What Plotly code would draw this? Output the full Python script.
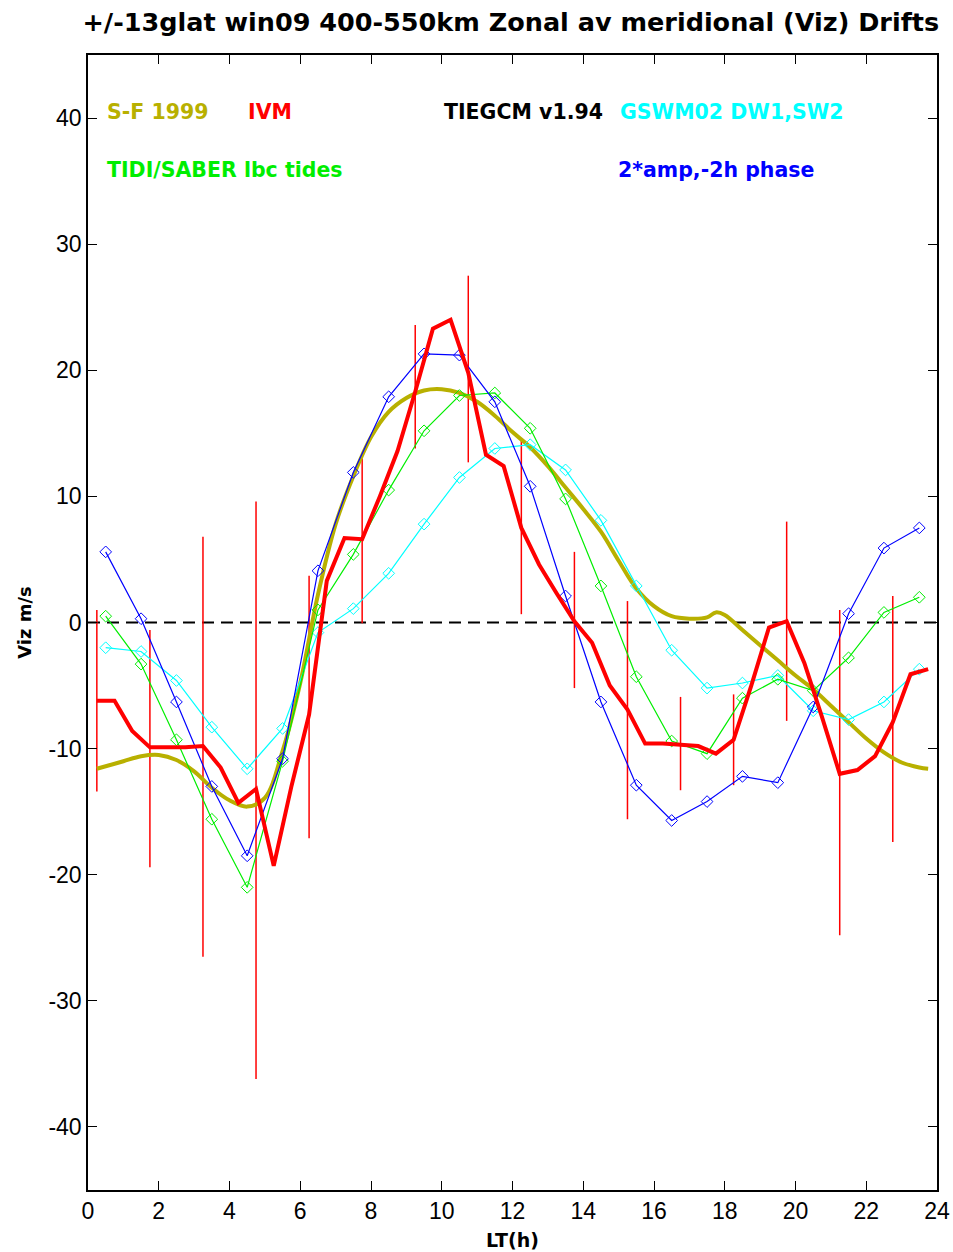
import plotly.graph_objects as go

# Local time grids (hours)
lt_hourly = [h + 0.5 for h in range(24)]
lt_ivm = [0.25 + 0.5 * k for k in range(48)]

# Model / observation series (Viz, m/s)
tidi_saber = [0.5, -3.3, -9.3, -15.6, -21.0, -11.0, 1.0, 5.4, 10.5, 15.2, 18.0, 18.2,
              15.4, 9.8, 2.9, -4.3, -9.4, -10.4, -6.0, -4.5, -5.4, -2.8, 0.8, 2.0]
gswm02 = [-2.0, -2.3, -4.6, -8.3, -11.6, -8.4, -0.8, 1.1, 3.9, 7.8, 11.5, 13.8,
          14.1, 12.1, 8.1, 2.9, -2.2, -5.2, -4.8, -4.2, -7.0, -7.7, -6.3, -3.7]
amp2_phase = [5.6, 0.3, -6.3, -13.0, -18.5, -10.8, 4.1, 11.9, 17.9, 21.3, 21.2, 17.5,
              10.8, 2.1, -6.3, -12.9, -15.7, -14.2, -12.2, -12.7, -6.7, 0.7, 5.9, 7.5]

ivm = [-6.2, -6.2, -8.6, -9.9, -9.9, -9.9, -9.8, -11.5, -14.3, -13.2, -19.3, -13.0,
       -7.3, 3.3, 6.7, 6.6, 10.0, 13.6, 18.3, 23.3, 24.0, 19.8, 13.3, 12.4,
       7.5, 4.6, 2.3, 0.1, -1.6, -5.0, -6.9, -9.6, -9.6, -9.7, -9.8, -10.4,
       -9.3, -5.0, -0.4, 0.1, -3.2, -7.5, -12.0, -11.7, -10.6, -7.9, -4.1, -3.7]

# IVM bin ranges (1.5 h bins)
ivm_bar_lt = [0.25, 1.75, 3.25, 4.75, 6.25, 7.75, 9.25, 10.75, 12.25, 13.75,
              15.25, 16.75, 18.25, 19.75, 21.25, 22.75]
ivm_bar_hi = [1.0, -0.6, 6.8, 9.6, 3.7, 13.0, 23.6, 27.5, 14.6, 5.6,
              1.7, -5.9, -5.7, 8.0, 1.0, 2.1]
ivm_bar_lo = [-13.4, -19.4, -26.5, -36.2, -17.1, -0.05, 13.8, 12.7, 0.66, -5.2,
              -15.6, -13.3, -12.9, -7.8, -24.8, -17.4]

# Scherliess & Fejer 1999 climatology
sf_lt = [0.25, 0.5, 1.0, 1.5, 2.0, 2.5, 3.0, 3.5, 4.0, 4.5, 5.0, 5.5, 6.0, 6.5, 7.0,
         7.5, 8.0, 8.5, 9.0, 9.5, 10.0, 10.5, 11.0, 11.5, 12.0, 12.5, 13.0, 13.5,
         14.0, 14.5, 15.0, 15.5, 16.0, 16.5, 17.0, 17.5, 17.75, 18.0, 18.5, 19.0,
         19.5, 20.0, 20.5, 21.0, 21.5, 22.0, 22.5, 23.0, 23.5, 23.75]
sf1999 = [-11.6, -11.4, -11.0, -10.6, -10.5, -10.9, -11.8, -13.1, -14.1, -14.6, -13.9,
          -10.2, -4.8, 2.2, 7.8, 11.6, 14.7, 16.7, 17.8, 18.4, 18.5, 18.2, 17.5, 16.4,
          15.1, 13.9, 12.4, 10.7, 9.0, 7.2, 4.9, 2.7, 1.3, 0.5, 0.3, 0.4, 0.8, 0.6,
          -0.6, -1.8, -3.0, -4.2, -5.3, -6.6, -7.9, -9.2, -10.3, -11.1, -11.5, -11.6]

zero_x = [0, 24]
zero_y = [0, 0]

x_ticks = list(range(0, 25, 2))
y_ticks = list(range(-40, 41, 10))

OLIVE = "#b8b000"
RED = "#ff0000"
GREEN = "#00ee00"
CYAN = "#00ffff"
BLUE = "#0000ff"

fig = go.Figure()

fig.add_trace(go.Scatter(x=zero_x, y=zero_y, mode="lines",
                         line=dict(color="black", width=2, dash="12px,7px")))

# IVM vertical range bars
bar_x, bar_y = [], []
for t, lo, hi in zip(ivm_bar_lt, ivm_bar_lo, ivm_bar_hi):
    bar_x += [t, t, None]
    bar_y += [lo, hi, None]
fig.add_trace(go.Scatter(x=bar_x, y=bar_y, mode="lines",
                         line=dict(color=RED, width=1.5)))

fig.add_trace(go.Scatter(x=sf_lt, y=sf1999, mode="lines",
                         line=dict(color=OLIVE, width=4, shape="spline")))

marker_style = dict(symbol="diamond-open", size=9, line=dict(width=1))
fig.add_trace(go.Scatter(x=lt_hourly, y=gswm02, mode="lines+markers",
                         line=dict(color=CYAN, width=1.2),
                         marker=dict(color=CYAN, **marker_style)))
fig.add_trace(go.Scatter(x=lt_hourly, y=tidi_saber, mode="lines+markers",
                         line=dict(color=GREEN, width=1.2),
                         marker=dict(color=GREEN, **marker_style)))
fig.add_trace(go.Scatter(x=lt_hourly, y=amp2_phase, mode="lines+markers",
                         line=dict(color=BLUE, width=1.2),
                         marker=dict(color=BLUE, **marker_style)))

fig.add_trace(go.Scatter(x=lt_ivm, y=ivm, mode="lines",
                         line=dict(color=RED, width=4)))

BOLD = "DejaVu Sans, Verdana, sans-serif"
TICKFONT = "Liberation Sans Narrow, Liberation Sans, Arial, sans-serif"

labels = [
    ("S-F 1999", 0.48, 40.5, OLIVE),
    ("IVM", 4.46, 40.5, RED),
    ("TIEGCM v1.94", 10.0, 40.5, "black"),
    ("GSWM02 DW1,SW2", 14.97, 40.5, CYAN),
    ("TIDI/SABER lbc tides", 0.48, 35.9, GREEN),
    ("2*amp,-2h phase", 14.92, 35.9, BLUE),
]
for txt, x, y, col in labels:
    fig.add_annotation(x=x, y=y, text="<b>" + txt + "</b>", showarrow=False,
                       xanchor="left", yanchor="middle", xref="x", yref="y",
                       font=dict(family=BOLD, size=20.5, color=col))

axis_common = dict(showline=True, linecolor="black", linewidth=1.5, mirror="ticks",
                   ticks="inside", ticklen=9, tickwidth=1.2, tickcolor="black",
                   showgrid=False, zeroline=False, automargin=False,
                   tickfont=dict(family=TICKFONT, size=23, color="black"))

fig.update_layout(
    width=953, height=1252,
    margin=dict(l=88, r=16, t=55, b=62),
    paper_bgcolor="white", plot_bgcolor="white",
    showlegend=False,
    title=dict(text="<b>+/-13glat win09 400-550km Zonal av meridional (Viz) Drifts</b>",
               x=0.536, xanchor="center", y=0.982, yanchor="middle",
               font=dict(family=BOLD, size=25.5, color="black")),
    xaxis=dict(range=[0, 24], tickvals=x_ticks, ticktext=[str(v) for v in x_ticks],
               title=dict(text="<b>LT(h)</b>", standoff=10,
                          font=dict(family=BOLD, size=19, color="black")),
               **axis_common),
    yaxis=dict(range=[-45, 45], tickvals=y_ticks, ticktext=[str(v) for v in y_ticks],
               title=dict(text="<b>Viz m/s</b>", standoff=12,
                          font=dict(family=BOLD, size=18, color="black")),
               **axis_common),
)

fig.write_html("out.html")
